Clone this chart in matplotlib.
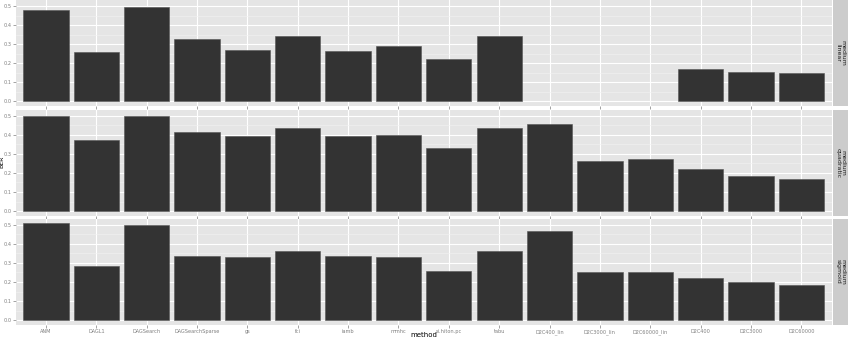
import numpy as np
import matplotlib
matplotlib.use("Agg")
from matplotlib import pyplot as plt

methods = ["ANM", "DAGL1", "DAGSearch", "DAGSearchSparse", "gs", "fci", "iamb",
           "mmhc", "si.hiton.pc", "tabu", "D2C400_lin", "D2C3000_lin",
           "D2C60000_lin", "D2C400", "D2C3000", "D2C60000"]
panels = ["medium\nlinear", "medium\nquadratic", "medium\nsigmoid"]

berLinear = [0.479, 0.259, 0.498, 0.327, 0.267, 0.344, 0.264, 0.292, 0.224,
             0.344, np.nan, np.nan, np.nan, 0.167, 0.156, 0.146]
berQuadratic = [0.500, 0.374, 0.498, 0.413, 0.395, 0.434, 0.395, 0.397, 0.332,
                0.434, 0.455, 0.261, 0.271, 0.219, 0.184, 0.166]
berSigmoid = [0.507, 0.284, 0.498, 0.338, 0.329, 0.360, 0.335, 0.331, 0.258,
              0.360, 0.468, 0.254, 0.254, 0.221, 0.200, 0.184]
yTicks = [0.0, 0.1, 0.2, 0.3, 0.4, 0.5]

W, H = 852, 340
fig = plt.figure(figsize=(W / 100, H / 100), dpi=100)

bg = "#E5E5E5"
ymax = np.nanmax(berSigmoid) * 1.05
ymin = -0.025
xpos = np.arange(len(methods))

# panel bounds in pixels (top, bottom)
rows = [(0, 106), (109.6, 215.8), (218.5, 325)]
left, right = 15.8, 831.5

for i, (vals, lab) in enumerate(zip([berLinear, berQuadratic, berSigmoid], panels)):
    top, bot = rows[i]
    ax = fig.add_axes([left / W, 1 - bot / H, (right - left) / W, (bot - top) / H])
    ax.set_facecolor(bg)
    ax.bar(xpos, vals, width=0.9, color="#333333", edgecolor="#555555",
           linewidth=0.4, zorder=3)
    ax.set_xlim(-0.6, len(methods) - 0.4)
    ax.set_ylim(ymin, ymax)
    ax.set_yticks(yTicks)
    ax.set_yticklabels(["%.1f" % t for t in yTicks])
    ax.set_yticks(np.arange(0.05, 0.55, 0.1), minor=True)
    ax.set_xticks(xpos)
    ax.grid(which="major", color="white", linewidth=0.8, zorder=1)
    ax.grid(which="minor", axis="y", color="#F2F2F2", linewidth=0.4, zorder=1)
    for s in ax.spines.values():
        s.set_visible(False)
    ax.tick_params(which="major", length=2, width=0.5, color="#7F7F7F",
                   labelsize=3.6, labelcolor="#7F7F7F", pad=1.2)
    ax.tick_params(which="minor", length=0)
    if i < 2:
        ax.set_xticklabels([])
    else:
        ax.set_xticklabels(methods)

    # facet strip on the right
    sx = fig.add_axes([833 / W, 1 - bot / H, 15 / W, (bot - top) / H])
    sx.set_facecolor("#CCCCCC")
    sx.set_xticks([])
    sx.set_yticks([])
    for s in sx.spines.values():
        s.set_visible(False)
    sx.text(0.5, 0.5, lab, rotation=-90, ha="center", va="center",
            fontsize=4.5, color="#1A1A1A", transform=sx.transAxes,
            linespacing=1.0)

fig.text(left / W + (right - left) / W / 2, 1 - 335 / H, "method",
         ha="center", va="center", fontsize=5)
fig.text(2.2 / W, 1 - 162 / H, "BER", rotation=90,
         ha="center", va="center", fontsize=4.5)

fig.savefig("out.png", dpi=100)
